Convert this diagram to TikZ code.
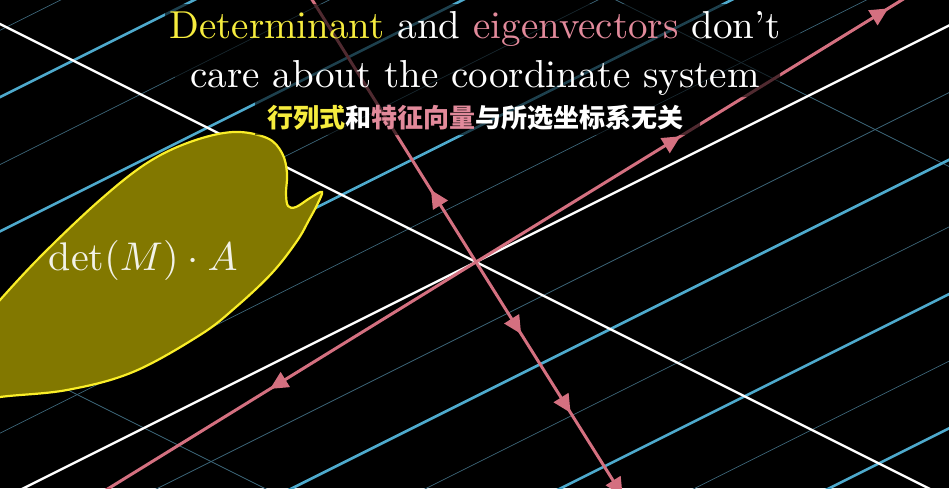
\documentclass[tikz,border=0pt]{standalone}
\usepackage{fontspec}
\newfontfamily\cjk{Noto Sans CJK SC}
\usetikzlibrary{arrows.meta,decorations.markings}
\definecolor{ylw}{RGB}{246,236,62}
\definecolor{pnktext}{RGB}{226,138,155}
\definecolor{pinkl}{RGB}{212,112,128}
\definecolor{gridblue}{RGB}{78,170,205}
\definecolor{faintc}{RGB}{62,104,124}
\definecolor{blobfill}{RGB}{130,120,0}
\definecolor{blobedge}{RGB}{250,238,40}
\definecolor{mathwhite}{RGB}{242,242,232}
\tikzset{eigtip/.tip={Triangle[length=18pt,width=17pt]}}
\begin{document}
\begin{tikzpicture}[x=1pt,y=-1pt,
  faint/.style={draw=faintc, line width=0.7pt},
  bluel/.style={draw=gridblue, line width=2.6pt},
  axisline/.style={draw=white, line width=2.4pt},
  eig/.style={color=pinkl, line width=3pt, postaction={decorate}},
  backdrop/.style={fill=black, fill opacity=0.62},
  titletext/.style={text=white, scale=3.9, inner sep=0pt},
  blob/.style={fill=blobfill, draw=blobedge, line width=2.2pt}]
\clip (0,0) rectangle (949,488);
\fill[black] (0,0) rectangle (949,488);
% faint grid lines
\foreach \c in {30.3,164.6,298.9,433.2,567.1,701.4,835.7}
  \draw[faint] (-10,\c+5) -- (960,\c-480);
\foreach \d in {-308,356}
  \draw[faint] (-10,\d-5) -- (960,\d+480);
% blue grid lines
\foreach \c in {97.1,231.4,365.7,634.3,768.6,902.9}
  \draw[bluel] (-10,\c+5) -- (960,\c-480);
% white axes
\coordinate (A1s) at (-10,505);
\coordinate (A1e) at (960,20);
\coordinate (A2s) at (-10,19);
\coordinate (A2e) at (960,504);
\draw[axisline] (A1s) -- (A1e);
\draw[axisline] (A2s) -- (A2e);
% blob
\draw[blob] plot[smooth cycle, tension=0.6] coordinates {
  (-40,405) (-25,330) (0,300) (43,254) (100,200) (147,163) (190,142) (233,132)
  (267,138) (282,153) (287,173) (286,193) (288,206) (296,207) (310,198) (322,192)
  (317,205) (309,220) (297,241) (272,273) (236,307) (200,335)
  (133,372) (67,390) (0,397)};
\node[text=mathwhite, anchor=base west, scale=4.0, inner sep=0pt] (detA) at (48,270) {$\det(M)\cdot A$};
% eigenvector lines
\coordinate (O) at (476,262);
\coordinate (E1) at (936,-21);
\coordinate (E2) at (67,514);
\coordinate (E3) at (296,-26);
\coordinate (E4) at (646,533);
\draw[eig, decoration={markings,
   mark=at position 240pt with {\arrow{eigtip}},
   mark=at position 484pt with {\arrow{eigtip}}}] (O) -- (E1);
\draw[eig, decoration={markings,
   mark=at position 242pt with {\arrow{eigtip}}}] (O) -- (E2);
\draw[eig, decoration={markings,
   mark=at position 85pt with {\arrow{eigtip}}}] (O) -- (E3);
\draw[eig, decoration={markings,
   mark=at position 85pt with {\arrow{eigtip}},
   mark=at position 178pt with {\arrow{eigtip}},
   mark=at position 276pt with {\arrow{eigtip}}}] (O) -- (E4);
% backdrop behind title
\fill[backdrop] (165,4) rectangle (800,50) (175,50) rectangle (780,97) (255,97) rectangle (700,135);
% title
\node[titletext, anchor=base] (t1) at (475,38) {\textcolor{ylw}{Determinant} and \textcolor{pnktext}{eigenvectors} don't};
\node[titletext, anchor=base] (t2) at (475,87) {care about the coordinate system};
\node[text=white, scale=2.6, inner sep=0pt] (t3) at (475,118) {\cjk\bfseries \textcolor{ylw}{行列式}和\textcolor{pnktext}{特征向量}与所选坐标系无关};
\end{tikzpicture}
\end{document}
